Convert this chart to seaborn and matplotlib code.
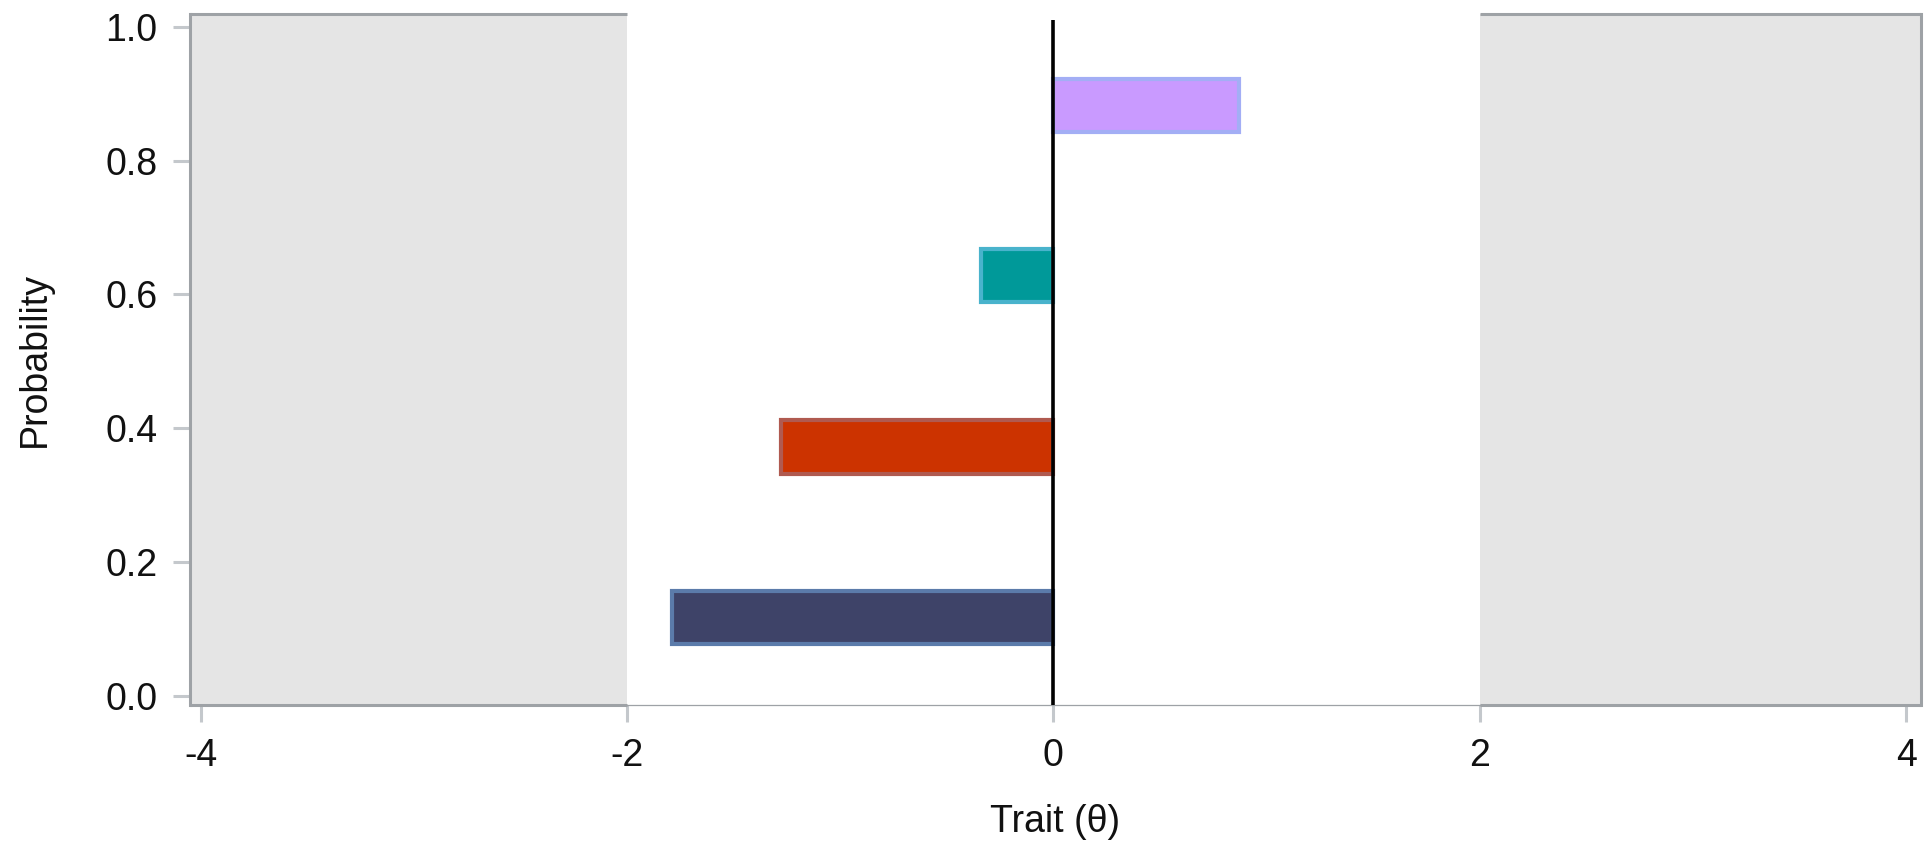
import pandas as pd
import seaborn as sns
import matplotlib.pyplot as plt
import numpy as np

# Threshold bars: trait location and the probability level they sit at
thresholds = [-1.79, -1.28, -0.34, 0.87]
prob_levels = [0.117, 0.372, 0.628, 0.882]
steps = ["1", "2", "3", "4"]
fill_colors = ["#3E4368", "#CC3300", "#009999", "#C99AFF"]
edge_colors = ["#5B7BAA", "#B05A50", "#49B3CC", "#A3AEF5"]

x_ticks = [-4, -2, 0, 2, 4]
y_ticks = [0.0, 0.2, 0.4, 0.6, 0.8, 1.0]

df = pd.DataFrame({"theta": thresholds, "prob": prob_levels, "step": steps})

sns.set_style("white")
plt.rcParams["font.family"] = ["Liberation Sans", "DejaVu Sans"]

fig = plt.figure(figsize=(19.29, 8.55), dpi=100)
ax = fig.add_axes([0.0985, 0.1749, 0.8974, 0.8087])

xmin, xmax = -4.05, 4.07
ymin, ymax = -0.0142, 1.019
band_color = "#E5E5E5"
frame_color = "#9EA2A6"

# bars
bar_h = 0.08
spacing = np.min(np.diff(prob_levels))
sns.barplot(data=df, x="theta", y="prob", hue="step", orient="h",
            native_scale=True, palette=fill_colors, dodge=False, saturation=1,
            width=bar_h / spacing, legend=False, ax=ax, zorder=2)
for cont, ec in zip(ax.containers, edge_colors):
    for patch in cont:
        patch.set_edgecolor(ec)
        patch.set_linewidth(3)

# grey bands outside [-2, 2]
ax.axvspan(xmin, -2, color=band_color, lw=0, zorder=0)
ax.axvspan(2, xmax, color=band_color, lw=0, zorder=0)

# reference line at zero
ax.vlines(0, ymin, 1.01, color="black", lw=2.6, zorder=3)

ax.set_xlim(xmin, xmax)
ax.set_ylim(ymin, ymax)
ax.set_xticks(x_ticks)
ax.set_xticklabels([str(t) for t in x_ticks])
ax.set_yticks(y_ticks)
ax.set_yticklabels([f"{t:.1f}" for t in y_ticks])
ax.tick_params(axis="both", length=12.5, width=2.2, color="#C4C8CC",
               labelsize=27, labelcolor="#111111", pad=11, left=True, bottom=True)

# frame: thick over the grey bands, thin under the white middle
ax.spines["top"].set_visible(False)
ax.spines["bottom"].set_color(frame_color)
ax.spines["bottom"].set_linewidth(0.9)
for s in ["left", "right"]:
    ax.spines[s].set_color(frame_color)
    ax.spines[s].set_linewidth(2.2)
for y in [ymin, ymax]:
    ax.hlines(y, xmin, -2, color=frame_color, lw=2.2, zorder=4, clip_on=False)
    ax.hlines(y, 2, xmax, color=frame_color, lw=2.2, zorder=4, clip_on=False)

ax.set_xlabel("Trait (θ)", fontsize=27, color="#111111")
ax.set_ylabel("Probability", fontsize=27, color="#111111")
ax.xaxis.set_label_coords(0.5, -0.143)
ax.yaxis.set_label_coords(-0.079, 0.5)

fig.savefig("out.png", dpi=100)
